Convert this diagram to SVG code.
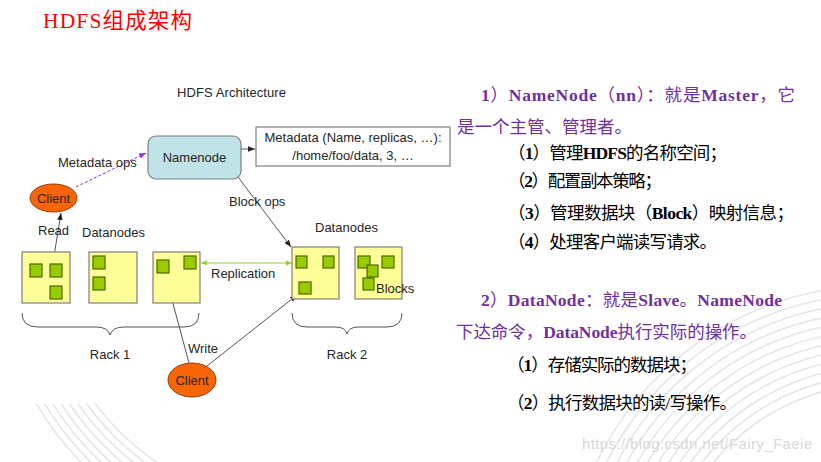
<svg xmlns="http://www.w3.org/2000/svg" width="821" height="462" viewBox="0 0 821 462">
<style>
.dt{font-family:"Liberation Sans",Arial,sans-serif;font-size:13px;fill:#262626}
.rack{fill:#ffff99;stroke:#7f7f7f;stroke-width:1.2}
.blk{fill:#99cc00;stroke:#4f6a00;stroke-width:1.2}
.conn{stroke:#555;stroke-width:1;fill:none}
.cn{font-family:"Liberation Serif","Noto Sans CJK SC",serif;font-size:17.5px}
.pu{fill:#7030a0}
.bk{fill:#000}
.b{font-weight:bold}
.deco{fill:none;stroke:#e6e6e6;stroke-width:1.6}
</style>
<defs>
<marker id="ah" viewBox="0 0 10 10" refX="10" refY="5" markerWidth="7" markerHeight="7" markerUnits="userSpaceOnUse" orient="auto-start-reverse"><path d="M0,1 L10,5 L0,9 z" fill="#222"/></marker>
<marker id="ahp" viewBox="0 0 10 10" refX="10" refY="5" markerWidth="7" markerHeight="7" markerUnits="userSpaceOnUse" orient="auto"><path d="M0,1 L10,5 L0,9 z" fill="#9933cc"/></marker>
<marker id="ahg" viewBox="0 0 10 10" refX="10" refY="5" markerWidth="6" markerHeight="6" markerUnits="userSpaceOnUse" orient="auto-start-reverse"><path d="M0,1 L10,5 L0,9 z" fill="#99cc33"/></marker>
<clipPath id="cpL"><rect x="0" y="404" width="170" height="58"/></clipPath>
<clipPath id="cpR"><rect x="540" y="270" width="281" height="192"/></clipPath>
</defs>
<rect width="821" height="462" fill="#fff"/>
<g id="background" clip-path="url(#cpR)">
<circle class="deco" cx="880" cy="600" r="315"/>
<circle class="deco" cx="880" cy="600" r="306"/>
<circle class="deco" cx="880" cy="600" r="297"/>
<circle class="deco" cx="880" cy="600" r="288"/>
<circle class="deco" cx="880" cy="600" r="279"/>
<circle class="deco" cx="880" cy="600" r="270"/>
<circle class="deco" cx="880" cy="600" r="261"/>
<circle class="deco" cx="880" cy="600" r="252"/>
<circle class="deco" cx="880" cy="600" r="243"/>
<circle class="deco" cx="880" cy="600" r="234"/>
<circle class="deco" cx="880" cy="600" r="225"/>
<circle class="deco" cx="880" cy="600" r="216"/>
</g>
<g id="background-left" clip-path="url(#cpL)">
<circle class="deco" cx="300" cy="250" r="305"/>
<circle class="deco" cx="300" cy="250" r="298"/>
<circle class="deco" cx="300" cy="250" r="291"/>
<circle class="deco" cx="300" cy="250" r="284"/>
<circle class="deco" cx="300" cy="250" r="277"/>
<circle class="deco" cx="300" cy="250" r="270"/>
<circle class="deco" cx="300" cy="250" r="263"/>
<circle class="deco" cx="300" cy="250" r="256"/>
</g>
<text x="43" y="28" font-family="'Liberation Serif','Noto Sans CJK SC',serif" font-size="21.5" fill="#ff0000" textLength="149">HDFS组成架构</text>
<text class="dt" x="177" y="97" textLength="109">HDFS Architecture</text>

<g id="connectors">
<line x1="241" y1="149" x2="255" y2="149" class="conn" marker-end="url(#ah)"/>
<line x1="76" y1="187" x2="146" y2="153" stroke="#9933cc" stroke-width="1" stroke-dasharray="3,2" marker-end="url(#ahp)"/>
<line x1="54" y1="256" x2="61" y2="213" class="conn" marker-end="url(#ah)"/>
<line x1="238" y1="177" x2="291" y2="247" class="conn" marker-end="url(#ah)"/>
<line x1="201" y1="263" x2="292" y2="263" stroke="#99cc33" stroke-width="1.2" marker-start="url(#ahg)" marker-end="url(#ahg)"/>
<line x1="189" y1="363" x2="165" y2="274" class="conn" marker-end="url(#ah)"/>
<line x1="207" y1="366" x2="297" y2="295" class="conn" marker-end="url(#ah)"/>
<text class="dt" x="58" y="167">Metadata ops</text>
<text class="dt" x="38" y="235">Read</text>
<text class="dt" x="229" y="206">Block ops</text>
<text class="dt" x="211" y="278">Replication</text>
<text class="dt" x="188" y="353">Write</text>
</g>

<g id="namenode">
<rect x="148" y="136" width="93" height="43" rx="8" fill="#bfe3e6" stroke="#7f7f7f" stroke-width="1.2"/>
<text class="dt" x="194.5" y="162" text-anchor="middle">Namenode</text>
</g>
<g id="metadata">
<rect x="256" y="127" width="194" height="39" fill="#fff" stroke="#7f7f7f" stroke-width="1.2"/>
<text class="dt" x="353" y="142" text-anchor="middle">Metadata (Name, replicas, …):</text>
<text class="dt" x="353" y="160" text-anchor="middle">/home/foo/data, 3, …</text>
</g>
<g id="client-read">
<ellipse cx="53.5" cy="198" rx="23.5" ry="14" fill="#f86408" stroke="#9a3c00" stroke-width="1"/>
<text class="dt" x="53.5" y="202.5" text-anchor="middle" fill="#111">Client</text>
</g>
<g id="client-write">
<ellipse cx="192" cy="380" rx="24" ry="17" fill="#f86408" stroke="#9a3c00" stroke-width="1"/>
<text class="dt" x="192" y="384.5" text-anchor="middle" fill="#111">Client</text>
</g>
<g id="datanodes-rack1">
<text class="dt" x="82" y="237">Datanodes</text>
<rect class="rack" x="22" y="252" width="48" height="51"/>
<rect class="blk" x="30" y="264" width="12" height="13"/>
<rect class="blk" x="50" y="264" width="12" height="13"/>
<rect class="blk" x="50" y="286" width="12" height="13"/>
<rect class="rack" x="89" y="252" width="48" height="51"/>
<rect class="blk" x="93" y="256" width="12" height="13"/>
<rect class="blk" x="93" y="277" width="12" height="13"/>
<rect class="rack" x="153" y="252" width="47" height="51"/>
<rect class="blk" x="157" y="260" width="12" height="13"/>
<rect class="blk" x="184" y="256" width="12" height="13"/>
<path class="conn" stroke="#666" d="M22,313 Q22,327 38,327 L96,327 Q108,327 110,335 Q112,327 124,327 L184,327 Q199,327 199,313"/>
<text class="dt" x="110" y="359" text-anchor="middle">Rack 1</text>
</g>
<g id="datanodes-rack2">
<text class="dt" x="315" y="232">Datanodes</text>
<rect class="rack" x="292" y="247" width="47" height="52"/>
<rect class="blk" x="296" y="256" width="11" height="12"/>
<rect class="blk" x="323" y="256" width="11" height="12"/>
<rect class="blk" x="299" y="282" width="12" height="12"/>
<rect class="rack" x="355" y="247" width="47" height="52"/>
<rect class="blk" x="358" y="256" width="12" height="12"/>
<rect class="blk" x="382" y="256" width="12" height="12"/>
<rect class="blk" x="367" y="265" width="11" height="12"/>
<rect class="blk" x="363" y="278" width="11" height="12"/>
<text class="dt" x="376" y="293">Blocks</text>
<path class="conn" stroke="#666" d="M292,313 Q292,327 307,327 L336,327 Q345,327 347,334 Q349,327 358,327 L387,327 Q402,327 402,313"/>
<text class="dt" x="347" y="359" text-anchor="middle">Rack 2</text>
</g>

<g id="notes">
<text class="cn pu" x="481" y="101" textLength="314"><tspan class="b">1</tspan>）<tspan class="b">NameNode</tspan>（<tspan class="b">nn</tspan>）：就是<tspan class="b">Master</tspan>，它</text>
<text class="cn pu" x="457" y="133" textLength="175">是一个主管、管理者。</text>
<text class="cn bk" x="508" y="159" textLength="219">（<tspan class="b">1</tspan>）管理<tspan class="b">HDFS</tspan>的名称空间；</text>
<text class="cn bk" x="508" y="187" textLength="154">（<tspan class="b">2</tspan>）配置副本策略；</text>
<text class="cn bk" x="508" y="219" textLength="286">（<tspan class="b">3</tspan>）管理数据块（<tspan class="b">Block</tspan>）映射信息；</text>
<text class="cn bk" x="508" y="248" textLength="209">（<tspan class="b">4</tspan>）处理客户端读写请求。</text>
<text class="cn pu" x="481" y="306" textLength="301"><tspan class="b">2</tspan>）<tspan class="b">DataNode</tspan>：就是<tspan class="b">Slave</tspan>。<tspan class="b">NameNode</tspan></text>
<text class="cn pu" x="456" y="338" textLength="301">下达命令，<tspan class="b">DataNode</tspan>执行实际的操作。</text>
<text class="cn bk" x="507" y="371" textLength="190">（<tspan class="b">1</tspan>）存储实际的数据块；</text>
<text class="cn bk" x="507" y="409" textLength="230">（<tspan class="b">2</tspan>）执行数据块的读/写操作。</text>
</g>
<text x="582" y="449" font-family="'Liberation Sans',Arial,sans-serif" font-size="15" fill="#d9d9d9" textLength="230">https://blog.csdn.net/Fairy_Faeie</text>
</svg>
